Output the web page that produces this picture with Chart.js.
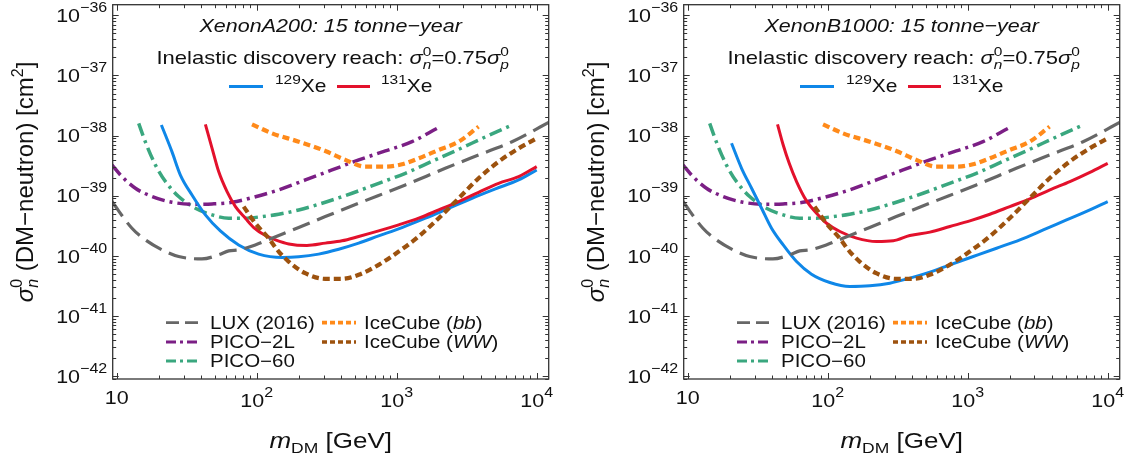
<!DOCTYPE html>
<html><head><meta charset="utf-8">
<script src="https://cdn.jsdelivr.net/npm/chart.js@4.4.1/dist/chart.umd.min.js"></script>
<style>
html,body{margin:0;padding:0;background:#fff;width:1137px;height:454px;overflow:hidden;}
#wrapA{position:absolute;left:0;top:0;width:566px;height:454px;}
#wrapB{position:absolute;left:571px;top:0;width:566px;height:454px;}
</style></head><body>
<div id="wrapA"><canvas id="cA" width="566" height="454"></canvas></div>
<div id="wrapB"><canvas id="cB" width="566" height="454"></canvas></div>
<script>
// ---------- data (m_DM in GeV, cross-section in cm^2) ----------
const luxM = [9.25, 12.85, 16.0, 21.1, 27.7, 40.6, 53.5, 63.1, 74.3, 97.7, 128.5, 199.5, 309, 535, 1153, 2223, 3846, 6668, 12160];
const luxS = [8.0e-40, 2.88e-40, 1.85e-40, 1.26e-40, 9.75e-41, 8.9e-41, 1.04e-40, 1.21e-40, 1.26e-40, 1.52e-40, 1.97e-40, 2.96e-40, 4.5e-40, 7.5e-40, 1.51e-39, 2.86e-39, 4.76e-39, 7.9e-39, 1.65e-38];

const pico2lM = [9.25, 10.9, 13.6, 17.9, 24.8, 36.5, 48.0, 66.6, 92.6, 143.5, 222.8, 345, 536, 830, 1286, 1940];
const pico2lS = [3.25e-39, 2.08e-39, 1.33e-39, 9.7e-40, 7.79e-40, 7.21e-40, 7.31e-40, 7.79e-40, 9.3e-40, 1.25e-39, 1.83e-39, 2.68e-39, 3.94e-39, 5.55e-39, 7.93e-39, 1.32e-38];

const pico60M = [14.36, 16.0, 18.9, 22.3, 27.7, 36.5, 48.0, 63.1, 83.0, 109.2, 143.5, 199.5, 309, 480, 743, 1153, 1787, 2773, 4296, 6668];
const pico60S = [1.6e-38, 7.9e-39, 3.25e-39, 1.72e-39, 9.7e-40, 6.2e-40, 4.8e-40, 4.23e-40, 4.23e-40, 4.5e-40, 4.92e-40, 5.8e-40, 7.8e-40, 1.1e-39, 1.61e-39, 2.36e-39, 3.73e-39, 5.91e-39, 9.48e-39, 1.5e-38];

const icBbM = [92.6, 128.5, 199.5, 309, 429.5, 597, 830, 1091, 1436, 1995, 2773, 3846];
const icBbS = [1.54e-38, 1.09e-38, 7.93e-39, 5.55e-39, 3.94e-39, 3.05e-39, 3.05e-39, 3.33e-39, 4.19e-39, 5.77e-39, 7.93e-39, 1.41e-38];

const icWwM = [80.7, 97.7, 121.6, 143.5, 169, 222, 309, 406, 535, 743, 1033, 1436, 1995, 2773, 3846, 5346, 7430, 10000];
const icWwS = [6.6e-40, 3.49e-40, 1.97e-40, 1.18e-40, 8.05e-41, 5.15e-41, 4.15e-41, 4.15e-41, 4.84e-41, 7.1e-41, 1.18e-40, 2.1e-40, 4.23e-40, 9.08e-40, 1.95e-39, 3.69e-39, 6.13e-39, 9.0e-39];

// XenonA200
const xe129AM = [20.85, 24.8, 28.5, 34.5, 43.0, 55.0, 74.3, 103.3, 151.7, 199.5, 277, 385, 535, 743, 1091, 1603, 2350, 3451, 5070, 7430, 10000];
const xe129AS = [1.5e-38, 5.41e-39, 2.21e-39, 1.03e-39, 4.8e-40, 2.6e-40, 1.52e-40, 1.07e-40, 9.4e-41, 9.64e-41, 1.07e-40, 1.29e-40, 1.63e-40, 2.15e-40, 2.96e-40, 4.23e-40, 6.19e-40, 9.08e-40, 1.3e-39, 1.83e-39, 2.68e-39];
const xe131AM = [43.0, 48.0, 53.5, 61.4, 70.5, 83.0, 95.3, 115.4, 136.1, 169.4, 228.6, 309, 406, 535, 743, 1033, 1436, 1995, 2773, 3846, 5346, 7430, 10000];
const xe131AS = [1.54e-38, 6.14e-39, 2.52e-39, 1.17e-39, 6.6e-40, 4.23e-40, 2.96e-40, 2.18e-40, 1.85e-40, 1.58e-40, 1.49e-40, 1.63e-40, 1.78e-40, 2.1e-40, 2.6e-40, 3.28e-40, 4.23e-40, 5.8e-40, 8.0e-40, 1.14e-39, 1.61e-39, 2.08e-39, 3.05e-39];

// XenonB1000
const xe129BM = [20.56, 24.25, 28.6, 33.7, 39.7, 48.1, 59.9, 76.6, 103.5, 143.9, 200, 278, 386, 537, 746, 1095, 1607, 2360, 3467, 5080, 7460, 10000];
const xe129BS = [7.44e-39, 2.86e-39, 1.33e-39, 6.19e-40, 2.88e-40, 1.52e-40, 8.05e-41, 4.96e-41, 3.61e-41, 3.1e-41, 3.18e-41, 3.52e-41, 4.26e-41, 5.36e-41, 7.1e-41, 9.75e-41, 1.34e-40, 1.85e-40, 2.7e-40, 3.96e-40, 5.8e-40, 8.0e-40];
const xe131BM = [43.8, 48.1, 53.1, 59.9, 70.6, 83.2, 98.2, 122.2, 160.7, 223.3, 294, 386, 537, 746, 1036, 1440, 2000, 2780, 3865, 5370, 7460, 10000];
const xe131BS = [1.54e-38, 6.98e-39, 3.46e-39, 1.72e-39, 8.2e-40, 5.12e-40, 3.49e-40, 2.54e-40, 1.97e-40, 1.73e-40, 1.78e-40, 2.18e-40, 2.48e-40, 3.08e-40, 3.82e-40, 4.92e-40, 6.6e-40, 8.85e-40, 1.25e-39, 1.72e-39, 2.45e-39, 3.46e-39];

// ticks
const xTickValues = [10, 100, 1000, 10000];
const xTickExp = ['', '2', '3', '4'];
const yTickValues = [1e-36, 1e-37, 1e-38, 1e-39, 1e-40, 1e-41, 1e-42];
const yTickExp = ['−36', '−37', '−38', '−39', '−40', '−41', '−42'];

// text
const panelTitles = ['XenonA200: 15 tonne−year', 'XenonB1000: 15 tonne−year'];
const isotopes = ['129', '131'];
const legendNames = ['LUX (2016)', 'PICO−2L', 'PICO−60', 'IceCube (', 'IceCube ('];
const legendItalic = ['', '', '', 'bb', 'WW'];

// ---------- styling ----------
const COL = {xe129:'#0f87e8', xe131:'#e3112c', lux:'#676767', pico2l:'#7b1f85', pico60:'#3aa77f', icbb:'#ff8a1a', icww:'#9d520e'};
const FONT = '"Liberation Sans", Arial, Helvetica, sans-serif';
const SY = 0.87;
function fnt(s, it){ return (it ? 'italic ' : '') + s + 'px ' + FONT; }
function partWidth(ctx, p){
  if (p.stack){
    ctx.font = fnt(p.s, p.i); const a = ctx.measureText(p.stack[0]).width;
    ctx.font = fnt(p.s, p.i2); const b = ctx.measureText(p.stack[1]).width;
    return Math.max(a, b) + (p.pad || 0);
  }
  ctx.font = fnt(p.s, p.i); return ctx.measureText(p.t).width + (p.pad || 0);
}
function drawRich(ctx, parts, x, y, align, sy){
  if (sy === undefined) sy = SY;
  const ws = parts.map(p => partWidth(ctx, p));
  const W = ws.reduce((a, b) => a + b, 0);
  let cx = align === 'center' ? x - W / 2 : align === 'right' ? x - W : x;
  ctx.save(); ctx.translate(0, y); ctx.scale(1, sy);
  ctx.textBaseline = 'alphabetic'; ctx.textAlign = 'left'; ctx.fillStyle = '#111';
  parts.forEach((p, i) => {
    if (p.stack){
      ctx.font = fnt(p.s, p.i); ctx.fillText(p.stack[0], cx, p.up);
      ctx.font = fnt(p.s, p.i2); ctx.fillText(p.stack[1], cx, p.down);
    } else { ctx.font = fnt(p.s, p.i); ctx.fillText(p.t, cx, p.dy || 0); }
    cx += ws[i];
  });
  ctx.restore();
  return W;
}
function seg(ctx, x1, x2, y, color, w, dash){
  ctx.save(); ctx.strokeStyle = color; ctx.lineWidth = w; ctx.setLineDash(dash); ctx.lineCap = 'butt';
  ctx.beginPath(); ctx.moveTo(x1, y); ctx.lineTo(x2, y); ctx.stroke(); ctx.restore();
}

const styles = {
  lux:   {c: COL.lux, w: 3.2, d: [18, 8], ld: [13, 6]},
  pico2l:{c: COL.pico2l, w: 3.5, d: [13, 5, 3, 5], ld: [10, 4, 3, 4]},
  pico60:{c: COL.pico60, w: 3.5, d: [13, 5, 3, 5], ld: [10, 4, 3, 4]},
  icbb:  {c: COL.icbb, w: 4.2, d: [7, 4], ld: [5, 3]},
  icww:  {c: COL.icww, w: 4.2, d: [7, 4], ld: [5, 3]},
  xe129: {c: COL.xe129, w: 3, d: []},
  xe131: {c: COL.xe131, w: 3, d: []}
};

function pts(ms, ss){ return ms.map((m, i) => ({x: m, y: ss[i]})); }
function ds(label, ms, ss, st){
  return {label, data: pts(ms, ss), borderColor: st.c, borderWidth: st.w, borderDash: st.d,
    borderCapStyle: 'butt', pointRadius: 0, fill: false, showLine: true,
    cubicInterpolationMode: 'monotone', clip: 0};
}

const TK = 21.5, TE = 16;   // tick label font sizes
const decor = {
  id: 'decor',
  afterDraw(chart){
    const o = chart.options.plugins.decor;
    const ctx = chart.ctx, a = chart.chartArea;
    const xs = chart.scales.x, ys = chart.scales.y;
    // frame
    ctx.save();
    ctx.strokeStyle = '#333'; ctx.lineWidth = 1.3;
    ctx.strokeRect(a.left, a.top, a.right - a.left, a.bottom - a.top);
    ctx.lineWidth = 1;
    ctx.beginPath();
    for (let k = -43; k <= -35; k++) for (let j = 1; j <= 9; j++){
      const v = j * Math.pow(10, k);
      if (v < ys.min || v > ys.max) continue;
      const py = Math.round(ys.getPixelForValue(v)) + 0.5, L = j === 1 ? 6 : 3.5;
      ctx.moveTo(a.left, py); ctx.lineTo(a.left + L, py);
      ctx.moveTo(a.right, py); ctx.lineTo(a.right - L, py);
    }
    for (let k = 0; k <= 4; k++) for (let j = 1; j <= 9; j++){
      const v = j * Math.pow(10, k);
      if (v < xs.min || v > xs.max) continue;
      const px = Math.round(xs.getPixelForValue(v)) + 0.5, L = j === 1 ? 6 : 3.5;
      ctx.moveTo(px, a.bottom); ctx.lineTo(px, a.bottom - L);
      ctx.moveTo(px, a.top); ctx.lineTo(px, a.top + L);
    }
    ctx.stroke();
    ctx.restore();
    // y tick labels
    const dH = TK * 0.716 * SY;
    yTickValues.forEach((v, i) => {
      const py = ys.getPixelForValue(v);
      drawRich(ctx, [{t:'10', s:TK}, {t: yTickExp[i], s:TE, dy:-11.5}], a.left - 5.5, py + dH / 2, 'right');
    });
    // x tick labels
    xTickValues.forEach((v, i) => {
      const px = xs.getPixelForValue(v);
      const parts = [{t:'10', s:TK}];
      if (xTickExp[i]) parts.push({t: xTickExp[i], s:TE, dy:-11.5});
      drawRich(ctx, parts, px, a.bottom + (xTickExp[i] ? 28 : 25), 'center');
    });
    // axis titles
    const cxm = (a.left + a.right) / 2;
    drawRich(ctx, [{t:'m', s:26, i:true}, {t:'DM', s:17.5, dy:5.5}, {t:' [GeV]', s:26}], cxm, 448, 'center');
    ctx.save(); ctx.translate(33, 182); ctx.rotate(-Math.PI / 2);
    drawRich(ctx, [{t:'σ', s:24, i:true}, {stack:['0', 'n'], s:16, i2:true, up:-11, down:5, pad:1},
      {t:' (DM−neutron) [cm', s:24}, {t:'2', s:16, dy:-10}, {t:']', s:24}], 0, 0, 'center', 1);
    ctx.restore();
    // top annotations
    drawRich(ctx, [{t: o.title, s:21.5, i:true}], cxm, 32.3, 'center');
    drawRich(ctx, [{t:'Inelastic discovery reach: ', s:22}, {t:'σ', s:22, i:true},
      {stack:['0', 'n'], s:15.5, i2:true, up:-10, down:5.5}, {t:'=0.75', s:22}, {t:'σ', s:22, i:true},
      {stack:['0', 'p'], s:15.5, i2:true, up:-10, down:5.5}], cxm + 2, 64.3, 'center');
    seg(ctx, 229, 263, 86.5, COL.xe129, 3, []);
    drawRich(ctx, [{t: isotopes[0], s:15.5, dy:-10}, {t:'Xe', s:21}], 275, 92.3, 'left');
    seg(ctx, 337, 370, 86.5, COL.xe131, 3, []);
    drawRich(ctx, [{t: isotopes[1], s:15.5, dy:-10}, {t:'Xe', s:21}], 381, 92.3, 'left');
    // bottom legend
    const keys = ['lux', 'pico2l', 'pico60', 'icbb', 'icww'];
    const pos = [[166, 198, 210, 0], [166, 198, 210, 1], [166, 198, 210, 2], [322, 356, 364, 0], [322, 356, 364, 1]];
    const rowY = [322.7, 342, 361];
    keys.forEach((k, i) => {
      const st = styles[k], p = pos[i], y = rowY[p[3]];
      seg(ctx, p[0], p[1], y, st.c, st.w - 0.5, st.ld);
      const parts = [{t: legendNames[i], s:20.5}];
      if (legendItalic[i]) { parts.push({t: legendItalic[i], s:20.5, i:true}); parts.push({t:')', s:20.5}); }
      drawRich(ctx, parts, p[2], y + 6, 'left');
    });
  }
};

function makeChart(id, title, x129M, x129S, x131M, x131S){
  return new Chart(document.getElementById(id), {
    type: 'line',
    data: {datasets: [
      ds('IceCube (WW)', icWwM, icWwS, styles.icww),
      ds('IceCube (bb)', icBbM, icBbS, styles.icbb),
      ds('LUX (2016)', luxM, luxS, styles.lux),
      ds('131Xe', x131M, x131S, styles.xe131),
      ds('129Xe', x129M, x129S, styles.xe129),
      ds('PICO-2L', pico2lM, pico2lS, styles.pico2l),
      ds('PICO-60', pico60M, pico60S, styles.pico60)
    ]},
    options: {
      responsive: false, animation: false, devicePixelRatio: 1,
      layout: {padding: {left: 112.7, top: 4.7, right: 17.3, bottom: 75}},
      scales: {
        x: {type: 'logarithmic', min: Math.pow(10, 0.9714), max: Math.pow(10, 4.0857), display: false},
        y: {type: 'logarithmic', min: Math.pow(10, -42.047), max: Math.pow(10, -35.824), display: false}
      },
      plugins: {legend: {display: false}, tooltip: {enabled: false}, decor: {title}}
    },
    plugins: [decor]
  });
}
makeChart('cA', panelTitles[0], xe129AM, xe129AS, xe131AM, xe131AS);
makeChart('cB', panelTitles[1], xe129BM, xe129BS, xe131BM, xe131BS);
</script>
</body></html>
